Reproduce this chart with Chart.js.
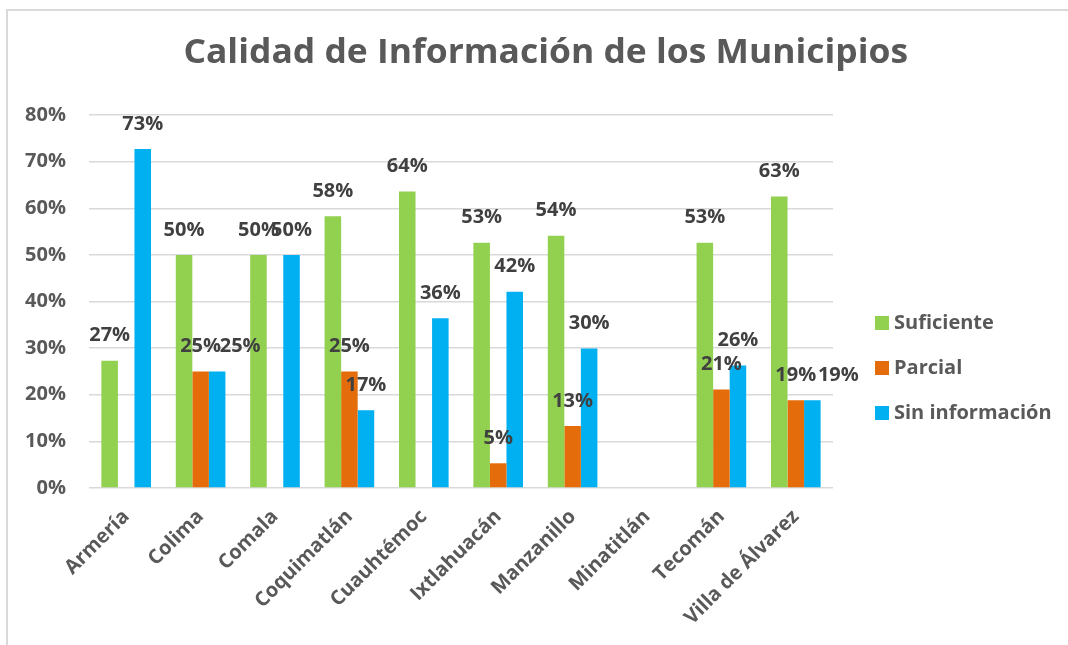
<!DOCTYPE html>
<html lang="es">
<head>
<meta charset="utf-8">
<title>Calidad de Información de los Municipios</title>
<script src="https://cdn.jsdelivr.net/npm/chart.js@4/dist/chart.umd.min.js"></script>
<style>
  html, body { margin: 0; padding: 0; background: #fff; overflow: hidden; }
  body { width: 1068px; height: 645px; position: relative; font-family: "Open Sans", sans-serif; }
  .frame {
    position: absolute; left: 6px; top: 9px; width: 1200px; height: 800px;
    border-left: 2px solid #d9d9d9; border-top: 2px solid #d9d9d9;
  }
  .chart-wrap { position: absolute; left: 0; top: 0; width: 1068px; height: 645px; }
  .chart-title {
    position: absolute; left: 0; top: 33px; width: 1091px; text-align: center;
    font: bold 34px/34px "Open Sans", sans-serif; color: #595959; white-space: nowrap;
  }
  .chart-title span { display: inline-block; transform-origin: center; }
  .legend { position: absolute; left: 875px; top: 0; }
  .legend__item {
    position: absolute; left: 0; white-space: nowrap;
    font: bold 20px/20px "Open Sans", sans-serif; color: #595959;
  }
  .legend__box { position: absolute; left: 0; top: 4px; width: 14px; height: 14px; }
  .legend__text { position: absolute; left: 19px; top: 0; }
</style>
</head>
<body>
<div class="frame"></div>
<div class="chart-wrap"><canvas id="chart"></canvas></div>
<div class="chart-title"><span id="title-text">Calidad de Información de los Municipios</span></div>
<div class="legend" id="legend"></div>

<script>
/* ── Data ─────────────────────────────────────────────────────────────── */

var municipios = ['Armería', 'Colima', 'Comala', 'Coquimatlán', 'Cuauhtémoc',
                  'Ixtlahuacán', 'Manzanillo', 'Minatitlán', 'Tecomán', 'Villa de Álvarez'];

var suficiente     = [27.3, 50, 50, 58.3, 63.6, 52.6, 54.1, 0, 52.6, 62.5];
var parcial        = [0,    25, 0,  25,   0,    5.3,  13.3, 0, 21.1, 18.8];
var sinInformacion = [72.7, 25, 50, 16.7, 36.4, 42.1, 29.9, 0, 26.3, 18.8];

var seriesNames  = ['Suficiente', 'Parcial', 'Sin información'];
var seriesColors = ['#92D050', '#E46C0A', '#00B0F0'];

var yTicks = [0, 10, 20, 30, 40, 50, 60, 70, 80];

/* ── Title: squeeze to the condensed width of the original ───────────── */

(function () {
  var span = document.getElementById('title-text');
  var w = span.getBoundingClientRect().width;
  if (w > 0) span.style.transform = 'scaleX(' + (725 / w).toFixed(3) + ')';
})();

/* ── Legend (HTML, placed beside the plot) ───────────────────────────── */

(function () {
  var legend = document.getElementById('legend');
  seriesNames.forEach(function (name, i) {
    var item = document.createElement('div');
    item.className = 'legend__item';
    item.style.top = (312 + i * 45) + 'px';
    item.innerHTML =
      '<span class="legend__box" style="background:' + seriesColors[i] + '"></span>' +
      '<span class="legend__text">' + name + '</span>';
    legend.appendChild(item);
  });
})();

/* ── Value labels above each bar (skip empty ones) ───────────────────── */

// a couple of labels were nudged sideways in the original ("dataset:index" -> px)
var labelNudge = { '2:1': 23, '2:9': 26 };

var valueLabels = {
  id: 'valueLabels',
  afterDatasetsDraw: function (chart) {
    var ctx = chart.ctx;
    ctx.save();
    ctx.font = 'bold 20px "Open Sans", sans-serif';
    ctx.fillStyle = '#404040';
    ctx.textAlign = 'center';
    ctx.textBaseline = 'middle';
    chart.data.datasets.forEach(function (ds, di) {
      chart.getDatasetMeta(di).data.forEach(function (bar, i) {
        var v = ds.data[i];
        if (!v) return;
        var dx = labelNudge[di + ':' + i] || 0;
        ctx.fillText(Math.round(v) + '%', bar.x + dx, bar.y - 25);
      });
    });
    ctx.restore();
  }
};

/* ── Chart ────────────────────────────────────────────────────────────── */

var datasets = [suficiente, parcial, sinInformacion].map(function (vals, i) {
  return {
    label: seriesNames[i],
    data: vals,
    backgroundColor: seriesColors[i],
    borderWidth: 0,
    categoryPercentage: 0.667,
    barPercentage: 1.0
  };
});

new Chart(document.getElementById('chart'), {
  type: 'bar',
  data: { labels: municipios, datasets: datasets },
  plugins: [valueLabels],
  options: {
    responsive: true,
    maintainAspectRatio: false,
    animation: false,
    layout: { padding: { top: 115, right: 235, bottom: 0, left: 0 } },
    plugins: {
      legend: { display: false },
      title: { display: false },
      tooltip: { enabled: false }
    },
    scales: {
      x: {
        grid: { display: false },
        border: { display: false },
        ticks: {
          autoSkip: false,
          minRotation: 45,
          maxRotation: 45,
          padding: 9,
          color: '#595959',
          font: { family: '"Open Sans", sans-serif', size: 20, weight: 'bold' }
        },
        afterFit: function (scale) { scale.height = 157; }
      },
      y: {
        min: yTicks[0],
        max: yTicks[yTicks.length - 1],
        afterBuildTicks: function (scale) {
          scale.ticks = yTicks.map(function (v) { return { value: v }; });
        },
        grid: { color: '#d9d9d9', lineWidth: 1.5, drawTicks: false },
        border: { display: false },
        ticks: {
          padding: 23,
          color: '#595959',
          font: { family: '"Open Sans", sans-serif', size: 20, weight: 'bold' },
          callback: function (v) { return v + '%'; }
        },
        afterFit: function (scale) { scale.width = 89; }
      }
    }
  }
});
</script>
</body>
</html>
